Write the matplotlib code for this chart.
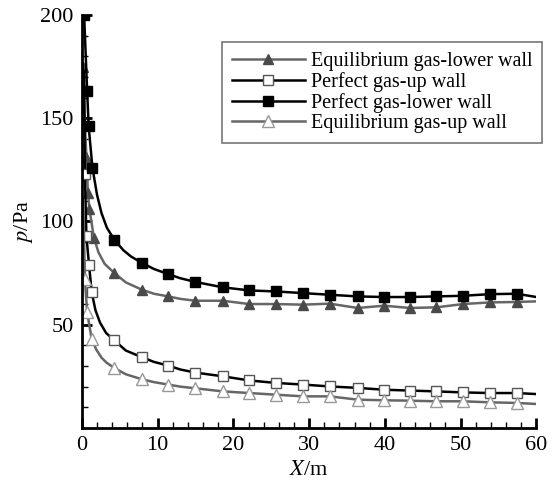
import matplotlib
matplotlib.use("Agg")
import matplotlib.pyplot as plt

plt.rcParams['font.family'] = ['Liberation Serif', 'DejaVu Serif']
plt.rcParams['mathtext.fontset'] = 'stix'

# x positions where the symbols sit (shared by the far-field part of all curves)
mark_x = [4.3, 7.9, 11.4, 15.0, 18.6, 22.1, 25.6, 29.2, 32.7, 36.4,
          39.9, 43.3, 46.8, 50.3, 53.9, 57.4]

# Perfect gas - lower wall (filled squares)
x_pl = [0.3, 0.7, 0.9, 1.4, 2.0, 2.6, 3.3, 4.3, 5.5, 6.5, 7.9, 9.5, 11.4, 13.0, 15.0,
        18.6, 22.1, 25.6, 29.2, 32.7, 36.4, 39.9, 43.3, 46.8, 50.3, 53.9, 57.4, 60.0]
y_pl = [200, 163, 146, 126, 113, 104, 97, 91, 86, 83, 80, 77, 74.5, 72.5, 70.7,
        68.1, 66.6, 66.1, 65.3, 64.5, 63.7, 63.4, 63.4, 63.7, 64.0, 64.8, 65.0, 63.4]
near_pl = [0.3, 0.7, 0.9, 1.4]

# Equilibrium gas - lower wall (filled triangles)
x_el = [0.1, 0.6, 0.8, 1.0, 1.6, 2.2, 3.0, 4.3, 5.8, 7.9, 9.5, 11.4, 13.0, 15.0,
        18.6, 22.1, 25.6, 29.2, 32.7, 36.4, 39.9, 43.3, 46.8, 50.3, 53.9, 57.4, 60.0]
y_el = [175, 131, 114, 106, 92, 85, 79.5, 75, 70.5, 67, 65, 63.7, 62.5, 61.6,
        61.6, 60.0, 60.0, 59.7, 60.2, 58.1, 59.2, 58.1, 58.4, 60.0, 60.8, 61.0, 61.3]
near_el = [0.1, 0.6, 0.8, 1.0, 1.6]

# Perfect gas - up wall (open squares)
x_pu = [0.3, 0.4, 0.6, 0.95, 1.3, 1.8, 2.4, 3.2, 4.3, 5.8, 7.9, 9.5, 11.4, 13.0, 15.0,
        18.6, 22.1, 25.6, 29.2, 32.7, 36.4, 39.9, 43.3, 46.8, 50.3, 53.9, 57.4, 60.0]
y_pu = [173, 123, 93, 79, 65.7, 57, 51, 46, 42.4, 37.5, 34.3, 32, 30.2, 28.3, 26.8,
        25.0, 23.0, 21.8, 21.0, 20.1, 19.4, 18.5, 18.1, 17.7, 17.2, 16.9, 16.9, 16.4]
near_pu = [0.4, 0.6, 0.95, 1.3]

# Equilibrium gas - up wall (open triangles)
x_eu = [0.2, 0.4, 0.7, 1.3, 1.9, 2.6, 3.3, 4.3, 5.8, 7.9, 9.5, 11.4, 13.0, 15.0,
        18.6, 22.1, 25.6, 29.2, 32.7, 36.4, 39.9, 43.3, 46.8, 50.3, 53.9, 57.4, 60.0]
y_eu = [110, 72, 56, 43, 38, 34, 31.5, 29, 26, 23.6, 22.2, 21.0, 20, 19.2,
        17.7, 16.9, 16.1, 15.3, 15.3, 13.7, 13.4, 13.2, 12.9, 12.9, 12.4, 12.1, 11.6]
near_eu = [0.4, 0.7, 1.3]

labels = ['Equilibrium gas-lower wall', 'Perfect gas-up wall',
          'Perfect gas-lower wall', 'Equilibrium gas-up wall']


def marks(xs, near):
    return [i for i, v in enumerate(xs) if v in near or v in mark_x]


fig = plt.figure(figsize=(5.53, 4.83), dpi=100)
ax = fig.add_axes([0.148, 0.114, 0.822, 0.855])

dark = '#4a4a4a'
grey = '#666666'
ax.plot(x_el, y_el, color=grey, lw=1.8, marker='^', ms=7.5, mfc=dark, mec=dark,
        markevery=marks(x_el, near_el), label=labels[0])
ax.plot(x_pu, y_pu, color='black', lw=1.8, marker='s', ms=6.5, mfc='white', mec='#555555',
        markevery=marks(x_pu, near_pu), label=labels[1])
ax.plot(x_pl, y_pl, color='black', lw=1.8, marker='s', ms=6.5, mfc='black', mec='black',
        markevery=marks(x_pl, near_pl), label=labels[2])
ax.plot(x_eu, y_eu, color=grey, lw=1.8, marker='^', ms=8.5, mfc='white', mec='#999999',
        markevery=marks(x_eu, near_eu), label=labels[3])

ax.set_xlim(0, 60)
ax.set_ylim(0, 200)
ax.set_xticks([0, 10, 20, 30, 40, 50, 60])
ax.set_xticks(range(0, 61, 2), minor=True)
ax.set_yticks([50, 100, 150, 200])
ax.set_yticks(range(0, 201, 10), minor=True)
ax.spines['top'].set_visible(False)
ax.spines['right'].set_visible(False)
ax.spines['left'].set_linewidth(2)
ax.spines['bottom'].set_linewidth(2)
ax.tick_params(which='major', direction='in', length=7, width=2, labelsize=16, pad=6)
ax.tick_params(which='minor', direction='in', length=4, width=1)

ax.set_xlabel('$X$/m', fontsize=16, labelpad=4)
ax.set_ylabel('$p$/Pa', fontsize=16, labelpad=4)

leg = ax.legend(loc='upper right', bbox_to_anchor=(1.035, 0.96), fontsize=14.5,
                fancybox=False, edgecolor='#777777', framealpha=1,
                handlelength=3.6, handletextpad=0.3, labelspacing=0.05,
                borderpad=0.5)
leg.get_frame().set_linewidth(1.2)

fig.savefig('out.png', dpi=100)
